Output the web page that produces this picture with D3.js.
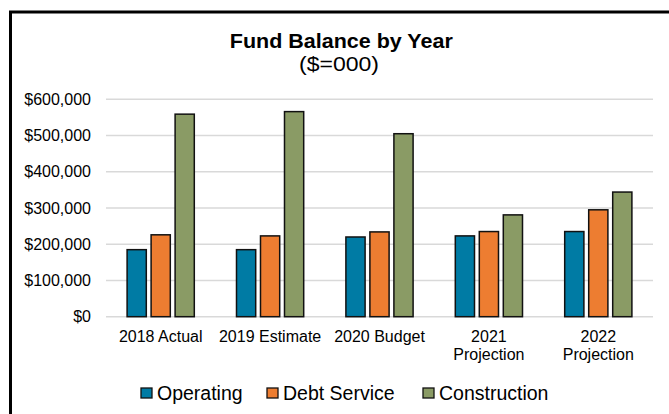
<!DOCTYPE html>
<html>
<head>
<meta charset="utf-8">
<script src="https://cdn.jsdelivr.net/npm/d3@7/dist/d3.min.js"></script>
<style>
  html, body { margin: 0; padding: 0; background: #fff; }
  svg { display: block; font-family: "Liberation Sans", Arial, sans-serif; }
</style>
</head>
<body>
<svg id="chart" width="669" height="414"></svg>
<script>
// Fund balances (in $000) per fiscal year, by fund
const categories = [["2018 Actual"], ["2019 Estimate"], ["2020 Budget"], ["2021", "Projection"], ["2022", "Projection"]];
const seriesNames = ["Operating", "Debt Service", "Construction"];
const operating = [185000, 185000, 220000, 223000, 235000];
const debtService = [226000, 223000, 234000, 235000, 295000];
const construction = [559000, 566000, 505000, 281000, 344000];
const yTicks = [0, 100000, 200000, 300000, 400000, 500000, 600000];
const colors = ["#007BA4", "#ED7D31", "#8A9B65"];

const seriesValues = [operating, debtService, construction];
const catKeys = categories.map(c => c.join(" "));

const svg = d3.select("#chart");

// outer frame
svg.append("rect")
  .attr("x", 10.5).attr("y", 12)
  .attr("width", 700).attr("height", 450)
  .attr("fill", "none").attr("stroke", "#000").attr("stroke-width", 3);

// titles
svg.append("text")
  .attr("x", 341.3).attr("y", 48)
  .attr("text-anchor", "middle")
  .attr("font-size", 21).attr("font-weight", "bold")
  .attr("textLength", 223).attr("lengthAdjust", "spacingAndGlyphs")
  .text("Fund Balance by Year");
svg.append("text")
  .attr("x", 339).attr("y", 71)
  .attr("text-anchor", "middle")
  .attr("font-size", 19.5)
  .attr("textLength", 80).attr("lengthAdjust", "spacingAndGlyphs")
  .text("($=000)");

const plot = { left: 106, right: 653, top: 99.3, bottom: 316.7 };

const x = d3.scaleBand().domain(catKeys).range([plot.left, plot.right]).padding(0);
const x1 = d3.scaleBand().domain(seriesNames)
  .range([x.bandwidth() / 2 - 36, x.bandwidth() / 2 + 36])
  .paddingInner(0.2).paddingOuter(0.1);
const y = d3.scaleLinear().domain([0, 600000]).range([plot.bottom, plot.top]);

// gridlines
svg.append("g")
  .selectAll("line")
  .data(yTicks)
  .join("line")
  .attr("x1", plot.left).attr("x2", plot.right)
  .attr("y1", d => y(d)).attr("y2", d => y(d))
  .attr("stroke", "#d9d9d9").attr("stroke-width", 1.5);

// y axis labels
const yAxis = d3.axisLeft(y).tickValues(yTicks).tickSize(0).tickPadding(0)
  .tickFormat(d => "$" + d3.format(",")(d));
svg.append("g")
  .attr("transform", `translate(91,0)`)
  .call(yAxis)
  .call(g => g.select(".domain").remove())
  .call(g => g.selectAll("text")
    .attr("font-size", 16).attr("fill", "#000")
    .attr("font-family", "Liberation Sans, Arial, sans-serif"));

// bars
const groups = svg.append("g")
  .selectAll("g")
  .data(catKeys)
  .join("g")
  .attr("transform", d => `translate(${x(d)},0)`);

groups.selectAll("rect")
  .data((d, i) => seriesNames.map((s, j) => ({ s, j, v: seriesValues[j][i] })))
  .join("rect")
  .attr("x", d => x1(d.s))
  .attr("width", x1.bandwidth())
  .attr("y", d => y(d.v))
  .attr("height", d => y(0) - y(d.v))
  .attr("fill", d => colors[d.j])
  .attr("stroke", "#111").attr("stroke-width", 1.5);

// category labels
const xLabels = svg.append("g")
  .selectAll("text")
  .data(categories)
  .join("text")
  .attr("x", (d, i) => x(catKeys[i]) + x.bandwidth() / 2)
  .attr("y", 342)
  .attr("text-anchor", "middle")
  .attr("font-size", 16)
  .attr("fill", "#000");
xLabels.selectAll("tspan")
  .data(d => d)
  .join("tspan")
  .attr("x", function () { return d3.select(this.parentNode).attr("x"); })
  .attr("dy", (d, i) => i === 0 ? 0 : 17.5)
  .text(d => d);

// legend
const legendX = [141, 267, 423];
const legend = svg.append("g")
  .selectAll("g")
  .data(seriesNames)
  .join("g")
  .attr("transform", (d, i) => `translate(${legendX[i]},0)`);
legend.append("rect")
  .attr("x", 0).attr("y", 388)
  .attr("width", 11).attr("height", 10)
  .attr("fill", (d, i) => colors[i])
  .attr("stroke", "#111").attr("stroke-width", 1.3);
legend.append("text")
  .attr("x", 16).attr("y", 399.5)
  .attr("font-size", 19.5)
  .attr("fill", "#000")
  .text(d => d);
</script>
</body>
</html>
